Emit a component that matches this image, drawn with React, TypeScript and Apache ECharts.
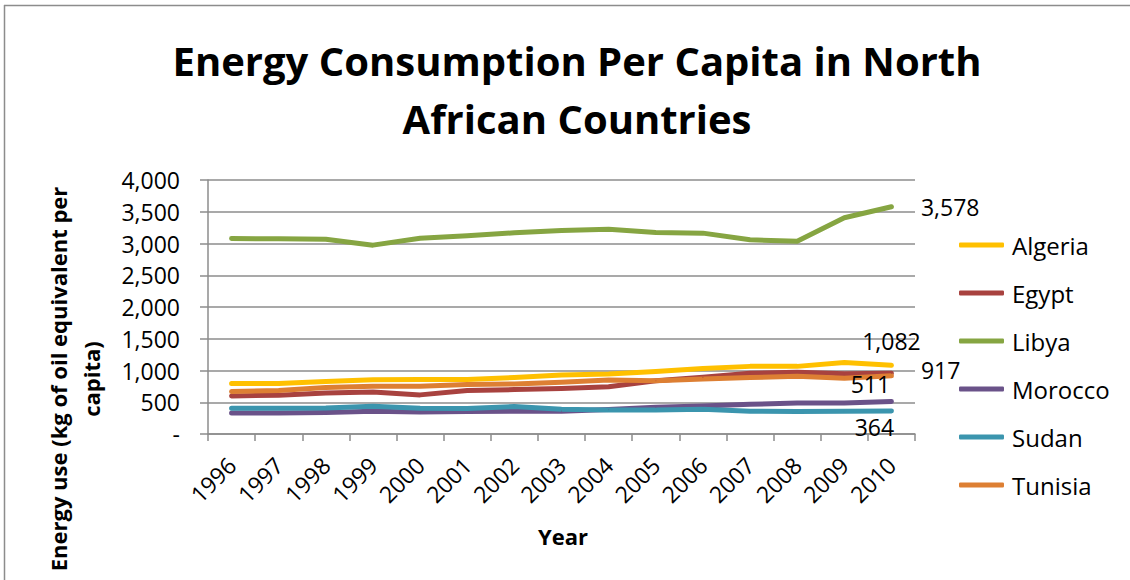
import React, { useEffect, useRef } from "react";
import * as echarts from "echarts";

const years = ["1996", "1997", "1998", "1999", "2000", "2001", "2002", "2003", "2004", "2005", "2006", "2007", "2008", "2009", "2010"];
const algeria = [795, 795, 826, 853, 858, 858, 890, 930, 945, 985, 1030, 1065, 1065, 1125, 1082];
const egypt = [600, 611, 647, 663, 616, 684, 700, 715, 745, 840, 894, 957, 973, 947, 957];
const libya = [3079, 3074, 3068, 2974, 3084, 3121, 3168, 3205, 3226, 3174, 3163, 3058, 3037, 3405, 3578];
const morocco = [332, 332, 337, 358, 347, 353, 358, 360, 384, 421, 442, 468, 489, 489, 511];
const sudan = [405, 405, 410, 437, 405, 400, 432, 390, 379, 379, 389, 358, 353, 358, 364];
const tunisia = [668, 684, 732, 753, 753, 779, 789, 815, 851, 840, 867, 888, 910, 878, 917];

const seriesNames = ["Algeria", "Egypt", "Libya", "Morocco", "Sudan", "Tunisia"];
const seriesData = [algeria, egypt, libya, morocco, sudan, tunisia];
const colors = ["#FFC000", "#A8423F", "#86A542", "#6A5289", "#3B95AE", "#DD7F33"];

const FONT = "'Open Sans', 'Noto Sans', sans-serif";
const fmt = (v: number) => (v === 0 ? "-" : v.toLocaleString("en-US"));

// label placement for the final point of each series
const endLabels: Record<string, any> = {
  Libya: { position: "right", distance: 29 },
  Algeria: { position: "top", distance: 12 },
  Tunisia: { position: "right", distance: 29, offset: [0, -6] },
  Morocco: { position: "top", distance: 6, offset: [-21, 0] },
  Sudan: { position: "bottom", distance: 4, offset: [-17, 0] },
};

export default function App() {
  const ref = useRef<HTMLDivElement>(null);
  useEffect(() => {
    if (!ref.current) return;
    const chart = echarts.init(ref.current, null, { renderer: "svg" });
    const series = seriesNames.map((name, i) => {
      const arr = seriesData[i];
      const data: any[] = arr.map((v, j) => {
        if (j === arr.length - 1 && endLabels[name]) {
          return {
            value: v,
            label: {
              show: true,
              formatter: (p: any) => fmt(p.value),
              fontSize: 23,
              fontFamily: FONT,
              color: "#000",
              ...endLabels[name],
            },
          };
        }
        return v;
      });
      return {
        name,
        type: "line",
        data,
        showSymbol: true,
        symbol: "circle",
        symbolSize: 1,
        smooth: false,
        lineStyle: { width: 5, color: colors[i], cap: "round", join: "round" },
        itemStyle: { color: colors[i] },
        emphasis: { disabled: true },
      };
    });
    chart.setOption({
      animation: false,
      backgroundColor: "#fff",
      color: colors,
      title: {
        text: "Energy Consumption Per Capita in North\nAfrican Countries",
        left: 572,
        top: 26,
        textAlign: "center",
        textStyle: { fontFamily: FONT, fontWeight: "bold", fontSize: 40, lineHeight: 58, color: "#000" },
      },
      legend: {
        orient: "vertical",
        left: 954,
        top: 227,
        itemWidth: 45,
        itemHeight: 5,
        itemGap: 22,
        icon: "roundRect",
        data: seriesNames,
        textStyle: { fontFamily: FONT, fontSize: 24, lineHeight: 26, color: "#000", padding: [0, 0, 0, 3] },
      },
      grid: { left: 208, top: 180, width: 707, height: 254, containLabel: false, outerBoundsMode: "none" },
      xAxis: {
        type: "category",
        data: years,
        boundaryGap: true,
        axisLine: { show: true, lineStyle: { color: "#8c8c8c", width: 1.5 } },
        axisTick: { show: true, length: 7, lineStyle: { color: "#8c8c8c", width: 1.5 } },
        axisLabel: {
          rotate: 45,
          fontSize: 23,
          fontFamily: FONT,
          color: "#000",
          margin: 27,
          interval: 0,
        },
        splitLine: { show: false },
      },
      yAxis: {
        type: "value",
        min: 0,
        max: 4000,
        interval: 500,
        axisLine: { show: true, lineStyle: { color: "#8c8c8c", width: 1.5 } },
        axisTick: { show: true, length: 8, lineStyle: { color: "#8c8c8c", width: 1.5 } },
        axisLabel: { fontSize: 23, fontFamily: FONT, color: "#000", margin: 28, formatter: (v: number) => fmt(v) },
        splitLine: { show: true, lineStyle: { color: "#8c8c8c", width: 1.5 } },
      },
      graphic: [
        { type: "line", shape: { x1: 4.5, y1: 5, x2: 4.5, y2: 580 }, style: { stroke: "#8c8c8c", lineWidth: 1.5 } },
        { type: "line", shape: { x1: 4, y1: 5.5, x2: 1130, y2: 5.5 }, style: { stroke: "#8c8c8c", lineWidth: 1.5 } },
        {
          type: "text",
          x: 74,
          y: 379,
          rotation: Math.PI / 2,
          style: {
            text: "Energy use (kg of oil equivalent per\ncapita)",
            fontFamily: FONT,
            fontWeight: "bold",
            fontSize: 22,
            lineHeight: 33,
            fill: "#000",
            align: "center",
            verticalAlign: "middle",
          },
        },
        {
          type: "text",
          x: 563,
          y: 536,
          style: {
            text: "Year",
            fontFamily: FONT,
            fontWeight: "bold",
            fontSize: 22,
            fill: "#000",
            align: "center",
            verticalAlign: "middle",
          },
        },
      ],
      series,
    });
    return () => chart.dispose();
  }, []);
  return <div ref={ref} style={{ position: "absolute", left: 0, top: 0, width: 1130, height: 580 }} />;
}
